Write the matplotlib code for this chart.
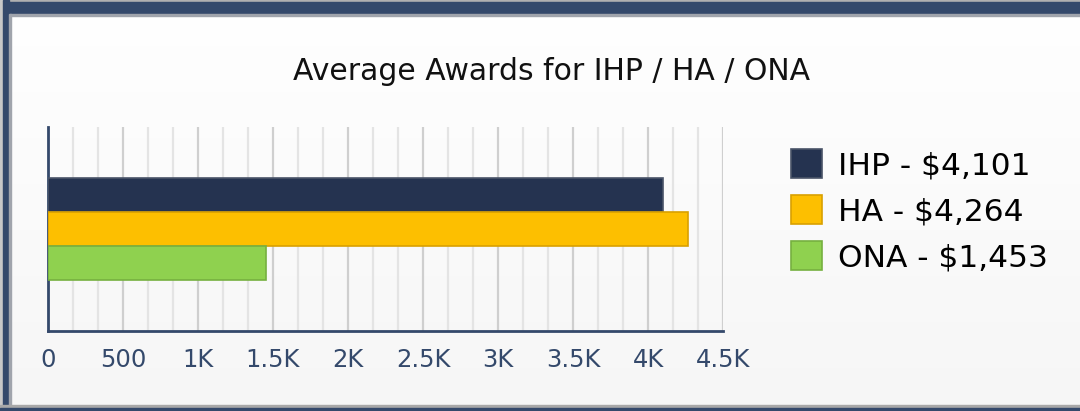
import numpy as np
import matplotlib
matplotlib.use("Agg")
from matplotlib import pyplot as plt
from matplotlib.patches import Rectangle, Patch
from matplotlib.ticker import MultipleLocator

# data
programs = ["IHP", "HA", "ONA"]
awards = [4101, 4264, 1453]
legend_labels = ["IHP - $4,101", "HA - $4,264", "ONA - $1,453"]
colors = ["#253350", "#fdbf00", "#8fd14f"]
edges = ["#4a5468", "#d9a000", "#76b040"]
xticks = [0, 500, 1000, 1500, 2000, 2500, 3000, 3500, 4000, 4500]
xtick_labels = ["0", "500", "1K", "1.5K", "2K", "2.5K", "3K", "3.5K", "4K", "4.5K"]

navy = "#34496b"

fig = plt.figure(figsize=(10.8, 4.11), dpi=100)
fig.patch.set_facecolor("white")

# panel background, fades slightly to grey at the bottom
grad = np.linspace(1.0, 0.965, 256).reshape(-1, 1)
bg = fig.add_axes([0, 0, 1, 1], zorder=-10)
bg.imshow(np.dstack([grad, grad, grad]), aspect="auto", extent=[0, 1, 0, 1])
bg.set_axis_off()

# frame borders in pixel units
W, H = 1080, 411
def px_rect(x0, y0, x1, y1, c):
    fig.patches.append(Rectangle((x0 / W, 1 - y1 / H), (x1 - x0) / W, (y1 - y0) / H,
                                 transform=fig.transFigure, color=c, zorder=5))
px_rect(0, 0, W, 2, "#b0b0b0")
px_rect(0, 2, W, 14, navy)
px_rect(0, 14, W, 16, "#a0a4ac")
px_rect(0, 0, 3, H, "#c8c8c8")
px_rect(3, 0, 9, H, navy)
px_rect(9, 14, 11, H, "#a0a4ac")
px_rect(0, 405, W, 408, "#a8a8a8")
px_rect(0, 408, W, H, navy)

ax = fig.add_axes([48 / W, 1 - 331 / H, 675 / W, 204 / H])
ax.set_facecolor("none")

ypos = [1, 0, -1]
for y, v, c, e, lab in zip(ypos, awards, colors, edges, legend_labels):
    ax.barh(y, v, height=0.98, color=c, edgecolor=e, linewidth=1.2, zorder=3, label=lab)

ax.set_xlim(0, 4500)
ax.set_ylim(-3, 3)
ax.set_yticks([])
ax.set_xticks(xticks)
ax.set_xticklabels(xtick_labels)
ax.xaxis.set_minor_locator(MultipleLocator(500 / 3))
ax.grid(axis="x", which="major", color="#cfcfcf", linewidth=1.6, zorder=0)
ax.grid(axis="x", which="minor", color="#e4e4e4", linewidth=1.6, zorder=0)
ax.tick_params(axis="x", which="both", length=0, pad=12, labelsize=17.5, labelcolor="#34496b")
for s in ["top", "right"]:
    ax.spines[s].set_visible(False)
for s in ["left", "bottom"]:
    ax.spines[s].set_color(navy)
    ax.spines[s].set_linewidth(2)

fig.text(552 / W, 1 - 72 / H, "Average Awards for IHP / HA / ONA", ha="center", va="center",
         fontsize=21.5, color="#111111")

handles = [Patch(facecolor=c, edgecolor=e, linewidth=1.2) for c, e in zip(colors, edges)]
fig.legend(handles, legend_labels, loc="upper left", bbox_to_anchor=(778 / W, 1 - 137 / H),
           frameon=False, fontsize=22.5, handlelength=1.02, handleheight=1.02,
           handletextpad=0.5, labelspacing=0.48, borderaxespad=0)

fig.savefig("out.png", dpi=100)
